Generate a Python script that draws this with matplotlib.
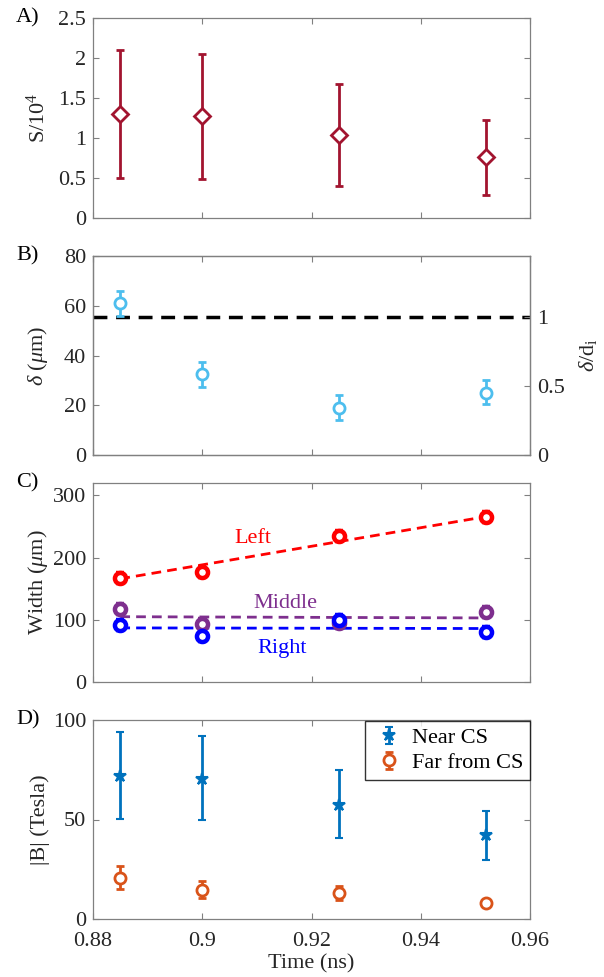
import matplotlib
matplotlib.use("Agg")
import matplotlib.pyplot as plt
from matplotlib.legend_handler import HandlerErrorbar
from matplotlib.container import ErrorbarContainer
import numpy as np

plt.rcParams['font.family'] = ['Liberation Serif', 'DejaVu Serif']
plt.rcParams['mathtext.fontset'] = 'custom'
plt.rcParams['mathtext.rm'] = 'Liberation Serif'
plt.rcParams['mathtext.it'] = 'Liberation Serif:italic'

# ---- data ----
time = [0.885, 0.900, 0.925, 0.952]

S_val = [1.30, 1.27, 1.04, 0.76]
S_lo = [0.50, 0.49, 0.40, 0.29]
S_hi = [2.10, 2.05, 1.68, 1.22]

delta_val = [61.0, 32.5, 19.0, 25.0]
delta_lo = [56.0, 27.5, 14.0, 20.5]
delta_hi = [66.0, 37.5, 24.0, 30.0]
d_i = 55.4

left_w = [168, 177, 235, 265]
middle_w = [118, 93, 95, 112]
right_w = [92, 74, 100, 80]
w_err = [8, 8, 8, 8]
fit_x = [0.885, 0.952]
left_fit = [166, 266]
middle_fit = [105, 103]
right_fit = [87, 86]

near_val = [72.0, 70.5, 57.5, 42.0]
near_lo = [50.5, 49.5, 40.5, 29.5]
near_hi = [94.0, 92.0, 75.0, 54.5]
far_val = [20.5, 14.5, 13.0, 8.0]
far_lo = [15.0, 10.5, 9.5, 7.0]
far_hi = [26.5, 19.0, 16.5, 9.0]

xticks = [0.88, 0.90, 0.92, 0.94, 0.96]
xticklabels = ['0.88', '0.9', '0.92', '0.94', '0.96']

W, H = 604, 977
fig = plt.figure(figsize=(W/100, H/100), dpi=100)
AX_L, AX_R = 93, 530

def ax_at(top, bottom):
    return fig.add_axes([AX_L/W, 1-bottom/H, (AX_R-AX_L)/W, (bottom-top)/H])

FS = 16
spine_c = '0.5'
lab_c = '#262626'
YLAB_X = (50 - AX_L) / (AX_R - AX_L)

def style(ax, show_x=False, right_ticks=True):
    ax.set_xlim(0.88, 0.96)
    ax.set_xticks(xticks)
    if show_x:
        ax.set_xticklabels(xticklabels)
    else:
        ax.set_xticklabels([])
    ax.tick_params(direction='in', top=True, right=right_ticks, labelsize=FS,
                   colors=spine_c, labelcolor=lab_c, length=4, width=0.8)
    ax.tick_params(axis='y', pad=5)
    ax.tick_params(axis='x', pad=9)
    for s in ax.spines.values():
        s.set_color(spine_c)
        s.set_linewidth(0.9)
    ax.yaxis.set_label_coords(YLAB_X, 0.5)

def err(v, lo, hi):
    v = np.array(v)
    return [v-np.array(lo), np.array(hi)-v]

# Panel A
axA = ax_at(18, 218)
c = '#A2142F'
axA.errorbar(time, S_val, yerr=err(S_val, S_lo, S_hi), fmt='D', color=c, mfc='white',
             mec=c, ms=8, mew=2, elinewidth=2, capsize=2.8, capthick=2)
axA.set_ylim(0, 2.5)
axA.set_yticks([0, 0.5, 1, 1.5, 2, 2.5])
axA.set_yticklabels(['0', '0.5', '1', '1.5', '2', '2.5'])
axA.set_ylabel('S/10$^4$', fontsize=FS, color=lab_c)
style(axA)

# Panel B
axB = ax_at(256, 455)
c = '#4DBEEE'
axB.axhline(d_i, color='black', ls=(0, (4, 2.5)), lw=2.5)
axB.errorbar(time, delta_val, yerr=err(delta_val, delta_lo, delta_hi), fmt='o', color=c,
             mfc='white', mec=c, ms=8, mew=2, elinewidth=2, capsize=2.8, capthick=2)
axB.set_ylim(0, 80)
axB.set_yticks([0, 20, 40, 60, 80])
axB.set_ylabel(r'$\delta$ ($\mu$m)', fontsize=FS, color=lab_c)
style(axB, right_ticks=False)
axB2 = axB.twinx()
axB2.set_ylim(0, 80/d_i)
axB2.set_yticks([0, 0.5, 1])
axB2.set_yticklabels(['0', '0.5', '1'])
axB2.tick_params(direction='in', labelsize=FS, colors=spine_c, labelcolor=lab_c,
                 length=4, width=0.8, pad=5)
axB2.set_ylabel(r'$\delta$/d$_{\rm i}$', fontsize=FS, color=lab_c)
axB2.yaxis.set_label_coords((577 - AX_L) / (AX_R - AX_L), 0.5)
for s in axB2.spines.values():
    s.set_color(spine_c)
    s.set_linewidth(0.9)

# Panel C
axC = ax_at(483, 682)
for vals, fit, col, lab, tx, ty in [
        (left_w, left_fit, '#FF0000', 'Left', 0.9093, 230),
        (middle_w, middle_fit, '#7E2F8E', 'Middle', 0.9152, 127),
        (right_w, right_fit, '#0000FF', 'Right', 0.9146, 54)]:
    axC.plot(fit_x, fit, ls=(0, (3.5, 2.2)), color=col, lw=2)
    axC.errorbar(time, vals, yerr=w_err, fmt='o', color=col, mfc='white', mec=col,
                 ms=8, mew=3.2, elinewidth=2.5, capsize=2.8, capthick=2.5)
    axC.text(tx, ty, lab, color=col, fontsize=FS, ha='center', va='center')
axC.set_ylim(0, 320)
axC.set_yticks([0, 100, 200, 300])
axC.set_ylabel(r'Width ($\mu$m)', fontsize=FS, color=lab_c)
style(axC)

# Panel D
axD = ax_at(720, 919)
axD.errorbar(time, near_val, yerr=err(near_val, near_lo, near_hi), fmt='*', color='#0072BD',
             ms=9, mew=1.5, elinewidth=2, capsize=2.8, capthick=2, label='Near CS')
axD.errorbar(time, far_val, yerr=err(far_val, far_lo, far_hi), fmt='o', color='#D95319',
             mfc='white', mec='#D95319', ms=8, mew=2, elinewidth=2, capsize=2.8, capthick=2,
             label='Far from CS')
axD.set_ylim(0, 100)
axD.set_yticks([0, 50, 100])
axD.set_ylabel('|B| (Tesla)', fontsize=FS, color=lab_c)
axD.set_xlabel('Time (ns)', fontsize=FS, labelpad=3, color=lab_c)
style(axD, show_x=True)
leg = axD.legend(loc='upper right', bbox_to_anchor=(1.0, 0.995), fontsize=FS, frameon=True,
                 fancybox=False, edgecolor='black', borderpad=0.3, handletextpad=0.3,
                 borderaxespad=0.0, handlelength=1.5, labelspacing=0.2,
                 handler_map={ErrorbarContainer: HandlerErrorbar(yerr_size=0.4)})
leg.get_frame().set_linewidth(1.0)

# panel labels
for lab, y in [('A)', 18), ('B)', 256), ('C)', 483), ('D)', 720)]:
    fig.text(16/W, 1-y/H, lab, fontsize=FS, ha='left', va='center')

fig.savefig('out.png', dpi=100)
